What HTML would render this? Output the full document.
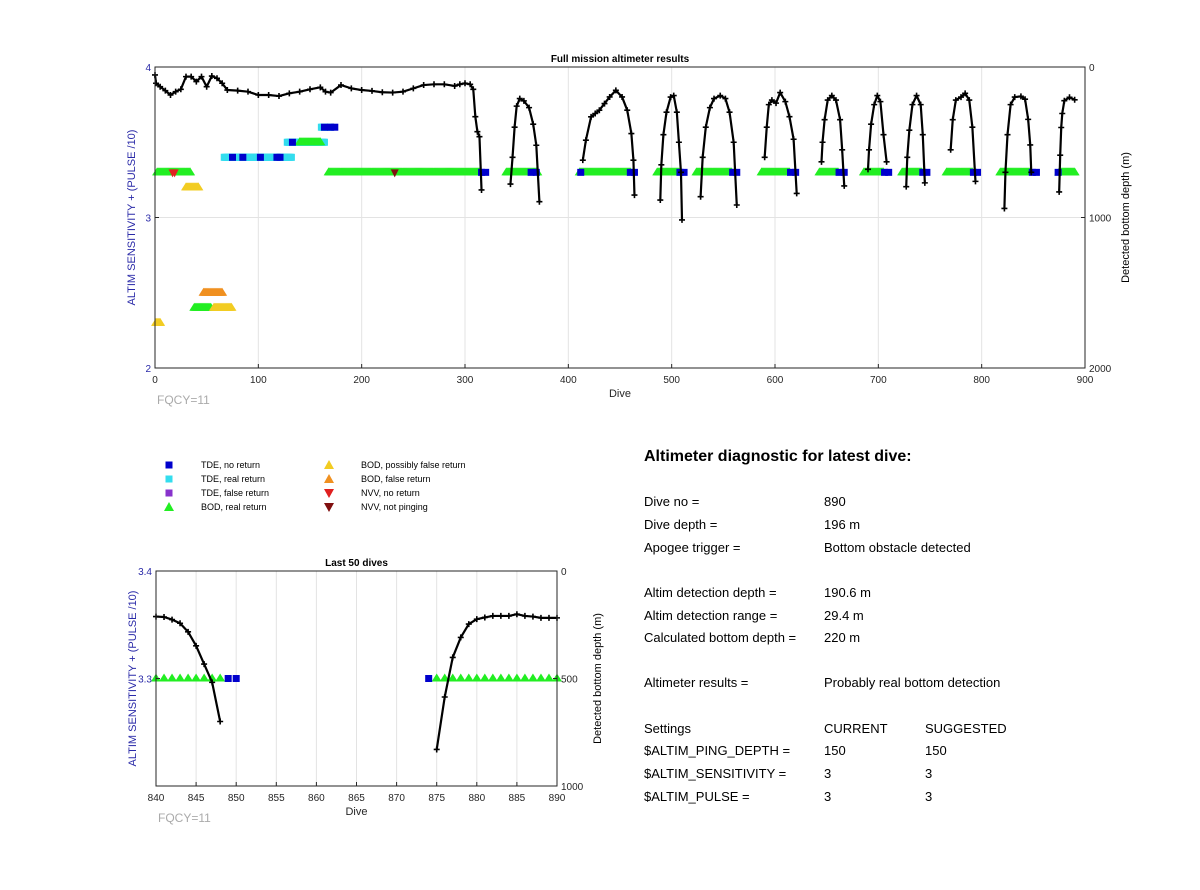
<!DOCTYPE html>
<html><head><meta charset="utf-8"><style>
body{margin:0;background:#fff;font-family:"Liberation Sans",sans-serif}
svg text{font-family:"Liberation Sans",sans-serif}
</style></head><body>
<svg id="s" width="1200" height="885" viewBox="0 0 1200 885">
<g font-size="13" fill="#000">
<text x="644" y="461" font-size="16" font-weight="bold">Altimeter diagnostic for latest dive:</text>
<text x="644" y="506">Dive no =</text><text x="824" y="506">890</text>
<text x="644" y="529">Dive depth =</text><text x="824" y="529">196 m</text>
<text x="644" y="552">Apogee trigger =</text><text x="824" y="552">Bottom obstacle detected</text>
<text x="644" y="597">Altim detection depth =</text><text x="824" y="597">190.6 m</text>
<text x="644" y="620">Altim detection range =</text><text x="824" y="620">29.4 m</text>
<text x="644" y="642">Calculated bottom depth =</text><text x="824" y="642">220 m</text>
<text x="644" y="687">Altimeter results =</text><text x="824" y="687">Probably real bottom detection</text>
<text x="644" y="733">Settings</text><text x="824" y="733">CURRENT</text><text x="925" y="733">SUGGESTED</text>
<text x="644" y="755">$ALTIM_PING_DEPTH =</text><text x="824" y="755">150</text><text x="925" y="755">150</text>
<text x="644" y="778">$ALTIM_SENSITIVITY =</text><text x="824" y="778">3</text><text x="925" y="778">3</text>
<text x="644" y="801">$ALTIM_PULSE =</text><text x="824" y="801">3</text><text x="925" y="801">3</text>
</g>
<g font-size="9">
<rect x="165.5" y="461.5" width="7" height="7" fill="#0000cc"/><text x="201" y="468">TDE, no return</text>
<rect x="165.5" y="475.5" width="7" height="7" fill="#33ddee"/><text x="201" y="482">TDE, real return</text>
<rect x="165.5" y="489.5" width="7" height="7" fill="#8833cc"/><text x="201" y="496">TDE, false return</text>
<polygon points="169,502 164,511 174,511" fill="#22ee22"/><text x="201" y="510">BOD, real return</text>
<polygon points="329,460 324,469 334,469" fill="#f2cc22"/><text x="361" y="468">BOD, possibly false return</text>
<polygon points="329,474 324,483 334,483" fill="#f09020"/><text x="361" y="482">BOD, false return</text>
<polygon points="324,489 334,489 329,498" fill="#e02020"/><text x="361" y="496">NVV, no return</text>
<polygon points="324,503 334,503 329,512" fill="#801010"/><text x="361" y="510">NVV, not pinging</text>
</g>
</svg>
<script>
// ---------- MAIN CHART DATA ----------
const mainXTicks=[0,100,200,300,400,500,600,700,800,900];
const mainLeftTicks=[2,3,4];
const mainRightTicks=[0,1000,2000];
const depthEarly=[[0,53],[1,108],[5,131],[10,157],[15,186],[20,164],[25,148],[30,64],[35,64],[40,97],[45,64],[50,131],[55,60],[60,75],[65,108],[70,153],[80,157],[90,164],[100,186],[110,186],[120,193],[130,175],[140,164],[150,148],[160,135],[165,164],[170,170],[180,120],[190,142],[200,153],[210,159],[220,168],[230,170],[240,164],[250,142],[260,120],[270,115],[280,115],[290,126],[295,115],[300,108],[305,115],[308,148],[310,330],[312,430],[314,463],[316,817]];
const arch1=[[344,778],[346,600],[348,400],[350,260],[353,210],[357,225],[362,270],[366,380],[369,520],[372,895]];
const arch2=[[414,619],[417,486],[422,331],[426,309],[430,287],[435,243],[440,199],[446,155],[452,199],[457,287],[461,442],[463,619],[464,851]];
const arch3=[[489,884],[490,650],[492,450],[495,300],[499,200],[502,190],[505,300],[507,500],[509,700],[510,1016]];
const arch4=[[528,862],[530,600],[533,400],[537,270],[541,210],[547,190],[552,210],[556,300],[560,500],[563,917]];
const arch5=[[590,600],[592,400],[594,250],[597,220],[601,240],[605,170],[610,230],[614,330],[618,480],[621,840]];
const arch6=[[645,630],[646,500],[648,350],[651,220],[655,190],[659,220],[663,350],[665,550],[667,790]];
const arch7=[[690,680],[691,550],[693,380],[696,250],[699,190],[702,230],[705,450],[708,630]];
const arch8=[[727,795],[728,600],[730,420],[733,250],[737,190],[741,250],[743,450],[745,770]];
const arch9=[[770,550],[772,350],[775,220],[780,200],[784,175],[788,220],[791,400],[794,760]];
const arch10=[[822,940],[823,700],[825,450],[828,250],[832,200],[838,195],[842,214],[845,348],[847,518],[848,700]];
const arch11=[[875,830],[876,586],[877,402],[878,309],[880,224],[885,201],[890,218]];
const mainDepthSeries=[depthEarly,arch1,arch2,arch3,arch4,arch5,arch6,arch7,arch8,arch9,arch10,arch11];
// BOD real-return ranges [startDive,endDive,value]
const bodRealRanges=[[2,34,3.3],[168,315,3.3],[340,370,3.3],[411,460,3.3],[486,507,3.3],[524,558,3.3],[587,614,3.3],[643,661,3.3],[686,705,3.3],[723,742,3.3],[766,791,3.3],[818,848,3.3],[875,890,3.3],[140,160,3.5],[38,54,2.4]];
const bodPossFalseRanges=[[30,42,3.2],[57,74,2.4],[1,5,2.3]];
const bodFalseRanges=[[47,65,2.5]];
const tdeRealRanges=[[67,132,3.4],[128,164,3.5],[161,170,3.6]];
const tdeNoReturn=[[75,3.4],[85,3.4],[102,3.4],[118,3.4],[121,3.4],[133,3.5],[164,3.6],[170,3.6],[174,3.6],[316,3.3],[320,3.3],[364,3.3],[369,3.3],[412,3.3],[460,3.3],[464,3.3],[508,3.3],[512,3.3],[559,3.3],[563,3.3],[615,3.3],[620,3.3],[662,3.3],[667,3.3],[706,3.3],[710,3.3],[743,3.3],[747,3.3],[792,3.3],[796,3.3],[849,3.3],[853,3.3],[874,3.3]];
const nvvNoReturn=[[17,3.3],[19,3.3]];
const nvvNotPinging=[[232,3.3]];
// ---------- LAST 50 DATA ----------
const lastXTicks=[840,845,850,855,860,865,870,875,880,885,890];
const lastLeftTicks=[3.3,3.4];
const lastRightTicks=[0,500,1000];
const lastDepthA=[[840,212],[841,214],[842,226],[843,243],[844,283],[845,348],[846,433],[847,518],[848,700]];
const lastDepthB=[[875,830],[876,586],[877,402],[878,309],[879,247],[880,224],[881,216],[882,209],[883,209],[884,209],[885,201],[886,209],[887,212],[888,218],[889,218],[890,218]];
const lastBodReal=[[840,848,3.3],[875,890,3.3]];
const lastTdeNo=[[849,3.3],[850,3.3],[874,3.3]];

const NS="http://www.w3.org/2000/svg";
const svg=document.getElementById('s');
function mk(tag,attrs,parent){const e=document.createElementNS(NS,tag);for(const k in attrs)e.setAttribute(k,attrs[k]);(parent||svg).appendChild(e);return e;}

function chart(cfg){
  const g=mk('g',{});
  
  
  const X=d=>cfg.x0+(d-cfg.xmin)/(cfg.xmax-cfg.xmin)*(cfg.x1-cfg.x0);
  const YL=v=>cfg.y1-(v-cfg.lmin)/(cfg.lmax-cfg.lmin)*(cfg.y1-cfg.y0);
  const YR=v=>cfg.y0+(v-cfg.rmin)/(cfg.rmax-cfg.rmin)*(cfg.y1-cfg.y0);
  // grid
  cfg.xticks.forEach(t=>{if(t>cfg.xmin&&t<cfg.xmax){const l=mk('line',{x1:X(t),x2:X(t),y1:cfg.y0,y2:cfg.y1,stroke:'#e3e3e3','stroke-width':1},g);
    
    }});
  cfg.gridL.forEach(v=>{const l=mk('line',{x1:cfg.x0,x2:cfg.x1,y1:YL(v),y2:YL(v),stroke:'#e3e3e3','stroke-width':1},g);
    
    });
  const tri=(d,v,col,dn,size)=>{const x=X(d),y=YL(v),s=size;const p=mk('polygon',{points:`${x},${y-s} ${x-s},${y+s*0.6} ${x+s},${y+s*0.6}`,fill:col},g);
    
    };
  const itri=(d,v,col,dn)=>{const x=X(d),y=YL(v);const p=mk('polygon',{points:`${x-4},${y-3} ${x+4},${y-3} ${x},${y+5}`,fill:col},g);
    
    };
  const sq=(d,v,col,dn)=>{const r=mk('rect',{x:X(d)-3.5,y:YL(v)-3.5,width:7,height:7,fill:col},g);
    
    };
  const step=cfg.step;
  cfg.tdeReal.forEach(([a,b,v])=>{for(let d=a;d<=b;d+=step)sq(d,v,'#33ddee','tde-real-return');});
  cfg.bodReal.forEach(([a,b,v])=>{for(let d=a;d<=b;d+=step)tri(d,v,'#22ee22','bod-real-return',cfg.tri);});
  cfg.bodPoss.forEach(([a,b,v])=>{for(let d=a;d<=b;d+=step)tri(d,v,'#f2cc22','bod-possibly-false-return',cfg.tri);});
  cfg.bodFalse.forEach(([a,b,v])=>{for(let d=a;d<=b;d+=step)tri(d,v,'#f09020','bod-false-return',cfg.tri);});
  cfg.tdeNo.forEach(([d,v])=>sq(d,v,'#0000cc','tde-no-return'));
  cfg.nvvNo.forEach(([d,v])=>itri(d,v,'#e02020','nvv-no-return'));
  cfg.nvvNot.forEach(([d,v])=>itri(d,v,'#801010','nvv-not-pinging'));
  // depth lines
  cfg.depth.forEach(ser=>{
    const pts=ser.map(([d,v])=>X(d)+','+YR(v)).join(' ');
    const pl=mk('polyline',{points:pts,fill:'none',stroke:'#000','stroke-width':2.2,'stroke-linejoin':'round'},g);
    
    
    ser.forEach(([d,v])=>{const x=X(d),y=YR(v);const m=mk('path',{d:`M${x-3},${y}H${x+3}M${x},${y-3}V${y+3}`,stroke:'#000','stroke-width':1.6},g);
      
      });
  });
  // box
  const b=mk('rect',{x:cfg.x0,y:cfg.y0,width:cfg.x1-cfg.x0,height:cfg.y1-cfg.y0,fill:'none',stroke:'#262626','stroke-width':1},g);
  
  
  cfg.xticks.forEach(t=>{const tx=mk('text',{x:X(t),y:cfg.y1+15,'font-size':10,'text-anchor':'middle',fill:'#262626'},g);tx.textContent=t;
    
    
    mk('line',{x1:X(t),x2:X(t),y1:cfg.y1,y2:cfg.y1-4,stroke:'#262626'},g);});
  cfg.lticks.forEach(t=>{const tx=mk('text',{x:cfg.x0-4,y:YL(t)+4,'font-size':10,'text-anchor':'end',fill:'#2a2aa8'},g);tx.textContent=t;
    
    
    mk('line',{x1:cfg.x0,x2:cfg.x0+4,y1:YL(t),y2:YL(t),stroke:'#262626'},g);});
  cfg.rticks.forEach(t=>{const tx=mk('text',{x:cfg.x1+4,y:YR(t)+4,'font-size':10,fill:'#262626'},g);tx.textContent=t;
    
    
    mk('line',{x1:cfg.x1,x2:cfg.x1-4,y1:YR(t),y2:YR(t),stroke:'#262626'},g);});
  const ym=(cfg.y0+cfg.y1)/2;
  let t=mk('text',{x:(cfg.x0+cfg.x1)/2,y:cfg.y0-5,'font-size':10,'font-weight':'bold','text-anchor':'middle'},g);t.textContent=cfg.title;
  
  
  t=mk('text',{x:(cfg.x0+cfg.x1)/2,y:cfg.y1+29,'font-size':11,'text-anchor':'middle',fill:'#262626'},g);t.textContent='Dive';
  
  
  t=mk('text',{x:cfg.x0-20,y:ym,'font-size':11,'text-anchor':'middle',fill:'#2a2aa8',transform:`rotate(-90 ${cfg.x0-20} ${ym})`},g);t.textContent='ALTIM SENSITIVITY + (PULSE /10)';
  
  
  t=mk('text',{x:cfg.x1+cfg.rOff,y:ym,'font-size':11,'text-anchor':'middle',fill:'#000',transform:`rotate(-90 ${cfg.x1+cfg.rOff} ${ym})`},g);t.textContent='Detected bottom depth (m)';
  
  
  t=mk('text',{x:cfg.x0+2,y:cfg.y1+36,'font-size':12,fill:'#aaaaaa'},g);t.textContent='FQCY=11';
  
  
}
chart({name:'full-mission-chart',title:'Full mission altimeter results',x0:155,x1:1085,y0:67,y1:368,xmin:0,xmax:900,lmin:2,lmax:4,rmin:0,rmax:2000,
  xticks:mainXTicks,lticks:mainLeftTicks,rticks:mainRightTicks,gridL:[3],step:1,tri:5,rOff:44,
  tdeReal:tdeRealRanges,bodReal:bodRealRanges,bodPoss:bodPossFalseRanges,bodFalse:bodFalseRanges,tdeNo:tdeNoReturn,nvvNo:nvvNoReturn,nvvNot:nvvNotPinging,depth:mainDepthSeries});
chart({name:'last-50-dives-chart',title:'Last 50 dives',x0:156,x1:557,y0:571,y1:786,xmin:840,xmax:890,lmin:3.2,lmax:3.4,rmin:0,rmax:1000,
  xticks:lastXTicks,lticks:lastLeftTicks,rticks:lastRightTicks,gridL:[],step:1,tri:5,rOff:44,
  tdeReal:[],bodReal:lastBodReal,bodPoss:[],bodFalse:[],tdeNo:lastTdeNo,nvvNo:[],nvvNot:[],depth:[lastDepthA,lastDepthB]});
</script>
</body></html>
